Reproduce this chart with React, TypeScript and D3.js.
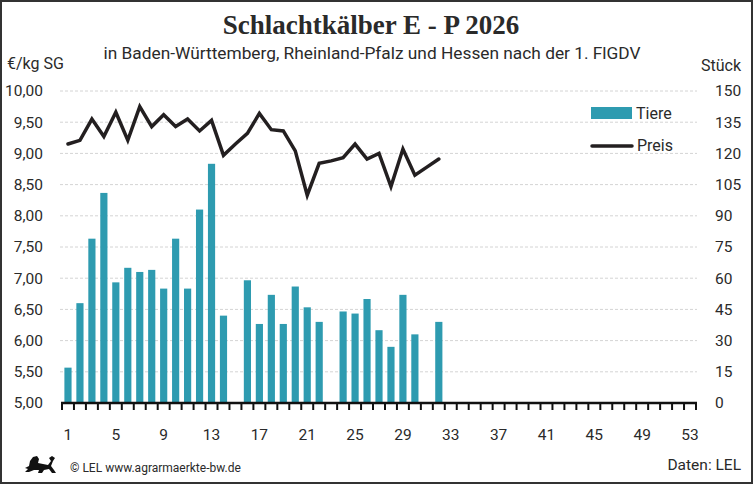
import * as d3 from "d3";
import { useEffect, useRef } from "react";

const weeks = d3.range(1, 54);
const tickWeeks = [1, 5, 9, 13, 17, 21, 25, 29, 33, 37, 41, 45, 49, 53];

// Tiere (Stück), null = keine Meldung
const tiere: (number | null)[] = [
  17, 48, 79, 101, 58, 65, 63, 64, 55, 79, 55, 93, 115, 42, null, 59, 38, 52,
  38, 56, 46, 39, null, 44, 43, 50, 35, 27, 52, 33, null, 39,
];

// Preis (€/kg SG)
const preis: number[] = [
  9.15, 9.21, 9.55, 9.27, 9.66, 9.21, 9.75, 9.43, 9.62, 9.43, 9.55, 9.36, 9.53,
  8.97, 9.15, 9.32, 9.64, 9.38, 9.36, 9.04, 8.33, 8.84, 8.88, 8.93, 9.15, 8.91,
  9.0, 8.47, 9.07, 8.65, 8.78, 8.91,
];

const leftTicks = [5, 5.5, 6, 6.5, 7, 7.5, 8, 8.5, 9, 9.5, 10];
const rightTicks = [0, 15, 30, 45, 60, 75, 90, 105, 120, 135, 150];

const BAR = "#2e9bb0";
const LINE = "#231f20";
const TEXT = "#2a2a2a";
const SANS = "Roboto, 'Noto Sans', sans-serif";

const App = () => {
  const ref = useRef<SVGSVGElement | null>(null);

  useEffect(() => {
    document.body.style.margin = "0";
    if (!ref.current) return;
    const svg = d3.select(ref.current);
    svg.selectAll("*").remove();

    const width = 753;
    const height = 484;
    const plot = { left: 62, right: 696, top: 91, bottom: 403 };

    svg
      .append("rect")
      .attr("x", 1)
      .attr("y", 1)
      .attr("width", width - 2)
      .attr("height", height - 2)
      .attr("fill", "#fff")
      .attr("stroke", "#333")
      .attr("stroke-width", 2);

    const x = d3
      .scaleBand<number>()
      .domain(weeks)
      .range([plot.left, plot.right])
      .paddingInner(0.4)
      .paddingOuter(0.2);
    const step = x.step();
    const xc = (w: number) => x(w)! + x.bandwidth() / 2;

    const yL = d3.scaleLinear().domain([5, 10]).range([plot.bottom, plot.top]);
    const yR = d3.scaleLinear().domain([0, 150]).range([plot.bottom, plot.top]);

    // gridlines
    svg
      .append("g")
      .selectAll("line")
      .data(leftTicks.slice(1))
      .join("line")
      .attr("x1", plot.left - 2)
      .attr("x2", plot.right + 1)
      .attr("y1", (d) => yL(d))
      .attr("y2", (d) => yL(d))
      .attr("stroke", "#d4d4d4")
      .attr("stroke-width", 1)
      .attr("stroke-dasharray", "3,2");

    // left axis labels
    svg
      .append("g")
      .selectAll("text")
      .data(leftTicks)
      .join("text")
      .attr("x", 43)
      .attr("y", (d) => yL(d))
      .attr("dy", "0.35em")
      .attr("text-anchor", "end")
      .attr("font-family", SANS)
      .attr("font-size", 15.5)
      .attr("fill", TEXT)
      .text((d) => d3.format(".2f")(d).replace(".", ","));

    // right axis labels
    svg
      .append("g")
      .selectAll("text")
      .data(rightTicks)
      .join("text")
      .attr("x", 715)
      .attr("y", (d) => yR(d))
      .attr("dy", "0.35em")
      .attr("font-family", SANS)
      .attr("font-size", 15.5)
      .attr("fill", TEXT)
      .text((d) => String(d));

    // bars
    const barData = tiere
      .map((v, i) => ({ week: weeks[i], v }))
      .filter((d) => d.v != null) as { week: number; v: number }[];
    svg
      .append("g")
      .selectAll("rect")
      .data(barData)
      .join("rect")
      .attr("x", (d) => x(d.week)!)
      .attr("width", x.bandwidth())
      .attr("y", (d) => yR(d.v))
      .attr("height", (d) => yR(0) - yR(d.v))
      .attr("fill", BAR);

    // price line
    const line = d3
      .line<number>()
      .x((_, i) => xc(weeks[i]))
      .y((d) => yL(d));
    svg
      .append("path")
      .datum(preis)
      .attr("d", line)
      .attr("fill", "none")
      .attr("stroke", LINE)
      .attr("stroke-width", 3.5)
      .attr("stroke-linejoin", "miter")
      .attr("stroke-linecap", "round");

    // x axis
    const ax = svg.append("g");
    ax.append("line")
      .attr("x1", plot.left - 1)
      .attr("x2", plot.right + 1)
      .attr("y1", plot.bottom)
      .attr("y2", plot.bottom)
      .attr("stroke", "#111")
      .attr("stroke-width", 2.5);
    ax.selectAll("line.tick")
      .data(d3.range(0, weeks.length + 1))
      .join("line")
      .attr("class", "tick")
      .attr("x1", (i) => plot.left + i * step)
      .attr("x2", (i) => plot.left + i * step)
      .attr("y1", plot.bottom)
      .attr("y2", plot.bottom + 7)
      .attr("stroke", "#111")
      .attr("stroke-width", 2);
    ax.selectAll("text")
      .data(tickWeeks)
      .join("text")
      .attr("x", (d) => xc(d))
      .attr("y", 440)
      .attr("text-anchor", "middle")
      .attr("font-family", SANS)
      .attr("font-size", 15.5)
      .attr("fill", TEXT)
      .text((d) => String(d));

    // titles
    svg
      .append("text")
      .attr("x", 371)
      .attr("y", 34)
      .attr("text-anchor", "middle")
      .attr("font-family", "'Liberation Serif', serif")
      .attr("font-weight", "bold")
      .attr("font-size", 27)
      .attr("fill", TEXT)
      .text("Schlachtkälber E - P 2026");
    svg
      .append("text")
      .attr("x", 372)
      .attr("y", 59)
      .attr("text-anchor", "middle")
      .attr("font-family", SANS)
      .attr("font-size", 16)
      .attr("fill", TEXT)
      .attr("textLength", 537)
      .attr("lengthAdjust", "spacingAndGlyphs")
      .text("in Baden-Württemberg, Rheinland-Pfalz und Hessen nach der 1. FlGDV");
    svg
      .append("text")
      .attr("x", 7)
      .attr("y", 69)
      .attr("font-family", SANS)
      .attr("font-size", 16)
      .attr("fill", TEXT)
      .text("€/kg SG");
    svg
      .append("text")
      .attr("x", 741)
      .attr("y", 71)
      .attr("text-anchor", "end")
      .attr("font-family", SANS)
      .attr("font-size", 16)
      .attr("fill", TEXT)
      .text("Stück");

    // legend
    const lg = svg.append("g");
    lg.append("rect")
      .attr("x", 591)
      .attr("y", 107)
      .attr("width", 41)
      .attr("height", 12)
      .attr("fill", BAR);
    lg.append("text")
      .attr("x", 636)
      .attr("y", 119)
      .attr("font-family", SANS)
      .attr("font-size", 16)
      .attr("fill", TEXT)
      .text("Tiere");
    lg.append("line")
      .attr("x1", 592)
      .attr("x2", 632)
      .attr("y1", 146)
      .attr("y2", 146)
      .attr("stroke", LINE)
      .attr("stroke-width", 3.5)
      .attr("stroke-linecap", "round");
    lg.append("text")
      .attr("x", 637)
      .attr("y", 151)
      .attr("font-family", SANS)
      .attr("font-size", 16)
      .attr("fill", TEXT)
      .text("Preis");

    // footer: Wappenlöwe (vereinfacht)
    svg
      .append("path")
      .attr(
        "d",
        "M25,468 L29,466 L30,461 L33,457 L37,456 L39,459 L38,463 L43,464 L48,465 L51,461 L49,458 L52,456 L55,458 L53,461 L51,466 L54,470 L56,473 L52,473 L49,469 L44,470 L42,473 L38,473 L39,470 L34,470 L29,472 L25,472 L28,469 Z"
      )
      .attr("fill", "#111");
    svg
      .append("text")
      .attr("x", 70)
      .attr("y", 472)
      .attr("font-family", SANS)
      .attr("font-size", 12)
      .attr("fill", TEXT)
      .text("© LEL www.agrarmaerkte-bw.de");
    svg
      .append("text")
      .attr("x", 741)
      .attr("y", 470)
      .attr("text-anchor", "end")
      .attr("font-family", SANS)
      .attr("font-size", 15.5)
      .attr("fill", TEXT)
      .text("Daten: LEL");
  }, []);

  return (
    <svg
      ref={ref}
      width={753}
      height={484}
      style={{ display: "block" }}
    />
  );
};

export default App;
